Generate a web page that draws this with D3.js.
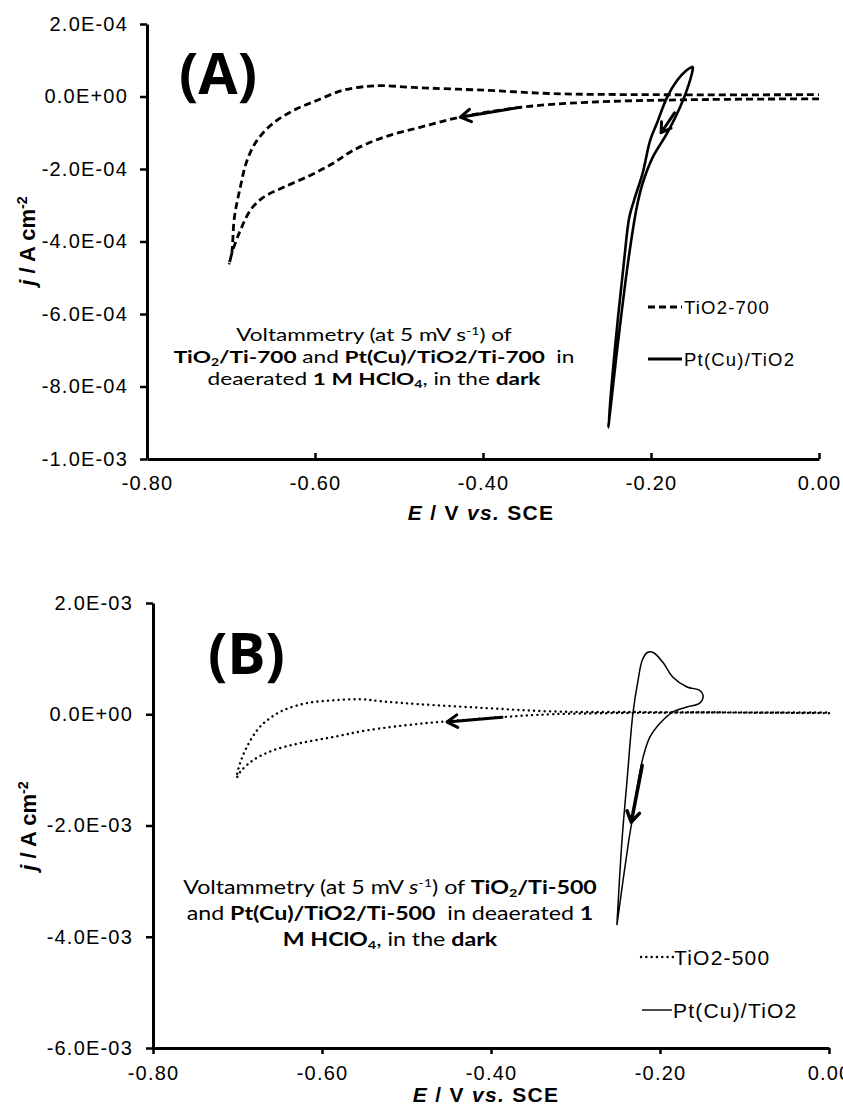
<!DOCTYPE html>
<html><head><meta charset="utf-8">
<script src="https://cdn.jsdelivr.net/npm/d3@7"></script>
<style>
body{margin:0;background:#fff}
svg{display:block;background:#fff}
.tick text{font-family:"Liberation Sans",Arial,sans-serif;}
</style>
</head><body>
<svg id="c" width="843" height="1110"></svg>
<script>
// ---------- data ----------
const xTicks = [-0.8, -0.6, -0.4, -0.2, 0];
const xTickLabels = ["-0.80", "-0.60", "-0.40", "-0.20", "0.00"];
const yTicksA = [2e-4, 0, -2e-4, -4e-4, -6e-4, -8e-4, -1e-3];
const yTickLabelsA = ["2.0E-04", "0.0E+00", "-2.0E-04", "-4.0E-04", "-6.0E-04", "-8.0E-04", "-1.0E-03"];
const yTicksB = [2e-3, 0, -2e-3, -4e-3, -6e-3];
const yTickLabelsB = ["2.0E-03", "0.0E+00", "-2.0E-03", "-4.0E-03", "-6.0E-03"];

// (A) TiO2-700, dashed: cathodic sweep 0 -> -0.70 V, then return
const tio2_700_E = [0.000, -0.157, -0.276, -0.356, -0.427, -0.475, -0.519, -0.555, -0.579, -0.606, -0.638, -0.662, -0.677, -0.689, -0.698, -0.702,
                    -0.699, -0.696, -0.689, -0.681, -0.669, -0.650, -0.626, -0.598, -0.567, -0.538, -0.519, -0.483, -0.395, -0.317, -0.198, 0.000];
const tio2_700_j = [-0.63e-5, -0.9e-5, -1.6e-5, -3.0e-5, -5.7e-5, -8.5e-5, -1.13e-4, -1.49e-4, -1.85e-4, -2.18e-4, -2.51e-4, -2.79e-4, -3.14e-4, -3.70e-4, -4.25e-4, -4.60e-4,
                    -4.30e-4, -3.34e-4, -2.51e-4, -1.77e-4, -1.21e-4, -0.74e-4, -0.39e-4, -0.11e-4, 0.17e-4, 0.28e-4, 0.30e-4, 0.25e-4, 0.17e-4, 0.08e-4, 0.05e-4, 0.05e-4];

// (A) Pt(Cu)/TiO2, solid
const ptcuA_E = [-0.150, -0.151, -0.162, -0.181, -0.198, -0.210, -0.217, -0.227, -0.239, -0.251,
                 -0.242, -0.232, -0.226, -0.220, -0.210, -0.201, -0.193, -0.181, -0.169, -0.158, -0.150];
const ptcuA_j = [0.83e-4, 0.66e-4, -0.11e-4, -1.02e-4, -1.68e-4, -2.40e-4, -3.06e-4, -4.52e-4, -6.73e-4, -9.13e-4,
                 -6.73e-4, -4.52e-4, -3.35e-4, -2.85e-4, -2.12e-4, -1.21e-4, -0.74e-4, -0.03e-4, 0.44e-4, 0.72e-4, 0.83e-4];

// (B) TiO2-500, dotted
const tio2_500_E = [0.000, -0.168, -0.327, -0.386, -0.445, -0.484, -0.547, -0.587, -0.626, -0.658, -0.682, -0.697, -0.701,
                    -0.697, -0.689, -0.677, -0.665, -0.646, -0.618, -0.587, -0.555, -0.528, -0.484, -0.405, -0.327, -0.232, 0.000];
const tio2_500_j = [0.02e-3, 0.03e-3, 0.00e-3, -0.05e-3, -0.12e-3, -0.17e-3, -0.29e-3, -0.41e-3, -0.52e-3, -0.65e-3, -0.83e-3, -1.04e-3, -1.14e-3,
                    -0.88e-3, -0.59e-3, -0.29e-3, -0.11e-3, 0.07e-3, 0.20e-3, 0.25e-3, 0.27e-3, 0.23e-3, 0.18e-3, 0.11e-3, 0.05e-3, 0.04e-3, 0.03e-3];

// (B) Pt(Cu)/TiO2, thin solid
const ptcuB_E = [-0.251, -0.245, -0.239, -0.232, -0.226, -0.221, -0.215, -0.208, -0.196, -0.185, -0.168, -0.153, -0.149,
                 -0.153, -0.168, -0.185, -0.200, -0.212, -0.220, -0.227, -0.233, -0.237, -0.251];
const ptcuB_j = [-3.79e-3, -2.27e-3, -1.19e-3, 0.02e-3, 0.61e-3, 0.97e-3, 1.11e-3, 1.11e-3, 0.92e-3, 0.67e-3, 0.49e-3, 0.43e-3, 0.34e-3,
                 0.20e-3, 0.13e-3, 0.04e-3, -0.16e-3, -0.41e-3, -0.77e-3, -1.31e-3, -1.91e-3, -2.27e-3, -3.79e-3];

// scan-direction arrows: [E tail, j tail, E head, j head]
const arrowA_dash = [-0.356, -3.0e-5, -0.427, -5.7e-5];
const arrowA_solid = [-0.172, -0.45e-4, -0.188, -1.0e-4];
const arrowB_dot = [-0.387, -0.055e-3, -0.452, -0.14e-3];
const arrowB_solid = [-0.221, -0.92e-3, -0.234, -1.94e-3];

const legendA = ["TiO2-700", "Pt(Cu)/TiO2"];
const legendB = ["TiO2-500", "Pt(Cu)/TiO2"];

const annoA = [
  [{t:"Voltammetry (at 5 mV s"},{t:"-1",sup:1},{t:") of"}],
  [{t:"TiO",b:1},{t:"2",b:1,sub:1},{t:"/Ti-700",b:1},{t:" and "},{t:"Pt(Cu)/TiO2/Ti-700",b:1},{t:"  in"}],
  [{t:"deaerated "},{t:"1 M HClO",b:1},{t:"4",b:1,sub:1},{t:", in the "},{t:"dark",b:1}]
];
const annoB = [
  [{t:"Voltammetry (at 5 mV "},{t:"s",i:1},{t:"-1",sup:1},{t:") of "},{t:"TiO",b:1},{t:"2",b:1,sub:1},{t:"/Ti-500",b:1}],
  [{t:"and "},{t:"Pt(Cu)/TiO2/Ti-500",b:1},{t:"  in deaerated "},{t:"1",b:1}],
  [{t:"M HClO",b:1},{t:"4",b:1,sub:1},{t:", in the "},{t:"dark",b:1}]
];

// ---------- drawing ----------
const svg = d3.select("#c");
const ARIAL = '"Liberation Sans", Arial, sans-serif';
const CAL = 'Lato, "Open Sans", sans-serif';

const xA = d3.scaleLinear().domain([-0.8, 0]).range([147, 819]);
const yA = d3.scaleLinear().domain([-1e-3, 2e-4]).range([459, 24]);
const xB = d3.scaleLinear().domain([-0.8, 0]).range([153, 829]);
const yB = d3.scaleLinear().domain([-6e-3, 2e-3]).range([1048, 603]);

function styleAxis(g, fs, ls) {
  g.select(".domain").attr("stroke", "#000").attr("stroke-width", 3);
  g.selectAll(".tick line").attr("stroke", "#000").attr("stroke-width", 2.5);
  g.selectAll(".tick text").attr("fill", "#000").style("font-size", fs + "px").style("letter-spacing", ls + "px");
}

// Panel A axes
const gyA = svg.append("g").attr("transform", "translate(147,0)")
  .call(d3.axisLeft(yA).tickValues(yTicksA).tickFormat((d, i) => yTickLabelsA[i]).tickSize(7).tickPadding(12).tickSizeOuter(0));
styleAxis(gyA, 20, 1.2);
const gxA = svg.append("g").attr("transform", "translate(0,459)")
  .call(d3.axisBottom(xA).tickValues(xTicks).tickFormat((d, i) => xTickLabels[i]).tickSize(-6).tickPadding(17).tickSizeOuter(0));
styleAxis(gxA, 20, 1.2);

// Panel B axes
const gyB = svg.append("g").attr("transform", "translate(153,0)")
  .call(d3.axisLeft(yB).tickValues(yTicksB).tickFormat((d, i) => yTickLabelsB[i]).tickSize(7).tickPadding(13).tickSizeOuter(0));
styleAxis(gyB, 20, 1.2);
const gxB = svg.append("g").attr("transform", "translate(0,1048)")
  .call(d3.axisBottom(xB).tickValues(xTicks).tickFormat((d, i) => xTickLabels[i]).tickSize(6).tickPadding(12).tickSizeOuter(0));
styleAxis(gxB, 20, 1.2);

// curves
function curve(x, y, E, J, attrs) {
  const pts = E.map((e, i) => [x(e), y(J[i])]);
  const p = svg.append("path").attr("d", d3.line().curve(d3.curveCatmullRom.alpha(0.5))(pts))
    .attr("fill", "none").attr("stroke", "#000").attr("stroke-linejoin", "round");
  Object.entries(attrs).forEach(([k, v]) => p.attr(k, v));
}
curve(xA, yA, tio2_700_E, tio2_700_j, {"stroke-width": 2.8, "stroke-dasharray": "7,4"});
curve(xA, yA, ptcuA_E, ptcuA_j, {"stroke-width": 2.6});
curve(xB, yB, tio2_500_E, tio2_500_j, {"stroke-width": 2.4, "stroke-dasharray": "0.1,5.2", "stroke-linecap": "round"});
curve(xB, yB, ptcuB_E, ptcuB_j, {"stroke-width": 1.5});

function arrow(x, y, a, w, L) {
  const x0 = x(a[0]), y0 = y(a[1]), x1 = x(a[2]), y1 = y(a[3]);
  const ang = Math.atan2(y1 - y0, x1 - x0);
  const b1 = [x1 - L * Math.cos(ang - 0.55), y1 - L * Math.sin(ang - 0.55)];
  const b2 = [x1 - L * Math.cos(ang + 0.55), y1 - L * Math.sin(ang + 0.55)];
  svg.append("path").attr("d", `M${x0},${y0}L${x1},${y1}M${b1[0]},${b1[1]}L${x1},${y1}L${b2[0]},${b2[1]}`)
    .attr("fill", "none").attr("stroke", "#000").attr("stroke-width", w)
    .attr("stroke-linecap", "round").attr("stroke-linejoin", "round");
}
arrow(xA, yA, arrowA_dash, 3, 12);
arrow(xA, yA, arrowA_solid, 3, 11);
arrow(xB, yB, arrowB_dot, 3, 12);
arrow(xB, yB, arrowB_solid, 3.5, 12);

// panel letters
svg.append("text").attr("x", 179).attr("y", 94).text("(A)")
  .style("font-family", '"Open Sans", sans-serif').style("font-weight", 700).style("font-size", "57px");
svg.append("text").attr("x", 208).attr("y", 674).text("(B)")
  .style("font-family", '"Open Sans", sans-serif').style("font-weight", 700).style("font-size", "57px");

// axis titles
function xTitle(cx, by) {
  const t = svg.append("text").attr("x", cx).attr("y", by).attr("text-anchor", "middle")
    .style("font-family", ARIAL).style("font-weight", 700).style("font-size", "21px").style("letter-spacing", "1.3px")
    .style("white-space", "pre");
  t.append("tspan").style("font-style", "italic").text("E");
  t.append("tspan").text(" / V ");
  t.append("tspan").style("font-style", "italic").text("vs.");
  t.append("tspan").text(" SCE");
}
function yTitle(bx, cy) {
  const t = svg.append("text").attr("transform", `translate(${bx},${cy}) rotate(-90)`).attr("text-anchor", "middle")
    .style("font-family", ARIAL).style("font-weight", 700).style("font-size", "22px").style("white-space", "pre");
  t.append("tspan").style("font-style", "italic").text("j");
  t.append("tspan").text(" / A cm");
  t.append("tspan").attr("baseline-shift", "super").style("font-size", "65%").text("-2");
}
xTitle(481, 520);
xTitle(486, 1102);
yTitle(35, 241);
yTitle(36, 826);

// legends
function legend(x0, x1, tx, cy, label, fs, attrs) {
  const l = svg.append("line").attr("x1", x0).attr("x2", x1).attr("y1", cy).attr("y2", cy).attr("stroke", "#000");
  Object.entries(attrs).forEach(([k, v]) => l.attr(k, v));
  svg.append("text").attr("x", tx).attr("y", cy + fs * 0.36).text(label)
    .style("font-family", ARIAL).style("font-size", fs + "px").style("letter-spacing", "1.2px");
}
legend(648, 682, 684, 307, legendA[0], 18.5, {"stroke-width": 2.8, "stroke-dasharray": "7,4"});
legend(648, 682, 684, 359, legendA[1], 18.5, {"stroke-width": 3});
legend(641, 673, 674, 957, legendB[0], 21, {"stroke-width": 2.4, "stroke-dasharray": "0.1,5.2", "stroke-linecap": "round"});
legend(642, 672, 673, 1010, legendB[1], 21, {"stroke-width": 1.4});

// annotations: text boxes, stretched horizontally like the source figure
function annotation(lines, cx, baselines, fs, targetW) {
  const texts = lines.map((segs, li) => {
    const t = svg.append("text").attr("x", cx).attr("y", baselines[li]).attr("text-anchor", "middle")
      .style("font-family", CAL).style("font-size", fs + "px").style("white-space", "pre");
    segs.forEach(s => {
      const ts = t.append("tspan").text(s.t);
      if (s.b) ts.style("font-weight", 700);
      if (s.i) ts.style("font-style", "italic");
      if (s.sup) ts.attr("baseline-shift", "super").style("font-size", "62%");
      if (s.sub) ts.attr("baseline-shift", "-25%").style("font-size", "62%");
    });
    return t;
  });
  const w = d3.max(texts, t => t.node().getComputedTextLength());
  const k = targetW / w;
  texts.forEach(t => t.attr("transform", `translate(${cx},0) scale(${k},1) translate(${-cx},0)`));
}
annotation(annoA, 374, [341, 363, 385], 17.5, 401);
annotation(annoB, 390, [894, 920, 946], 19, 414);
</script>
</body></html>
